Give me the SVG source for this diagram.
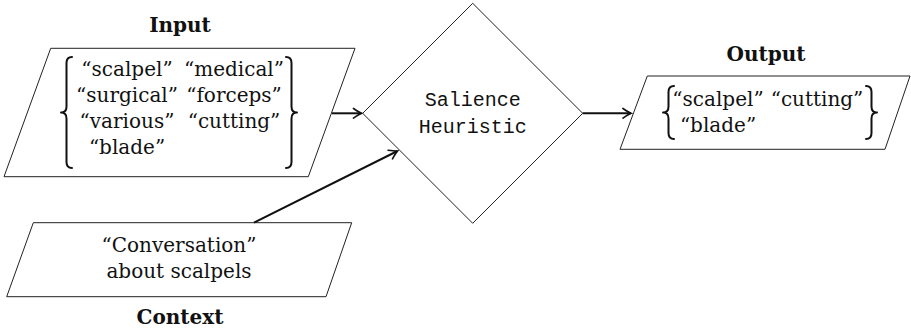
<svg xmlns="http://www.w3.org/2000/svg" width="911" height="334" viewBox="0 0 911 334">
<style>
  .shape { fill: #ffffff; stroke: #222222; stroke-width: 1; }
  .brace { fill: none; stroke: #111111; stroke-width: 2; stroke-linecap: round; stroke-linejoin: round; }
  .txt { font-family: "DejaVu Serif", "Liberation Serif", serif; font-size: 20px; fill: #111111; text-anchor: middle; }
  .mono { font-family: "Liberation Mono", "DejaVu Sans Mono", monospace; font-size: 20px; fill: #111111; text-anchor: middle; }
  .label { font-family: "DejaVu Serif", "Liberation Serif", serif; font-weight: bold; font-size: 20px; fill: #111111; text-anchor: middle; }
  .conn { fill: none; stroke: #111111; stroke-width: 2; }
</style>
<defs>
  <marker id="arrow" viewBox="-10 -6 12 12" refX="0" refY="0" markerWidth="12" markerHeight="12" markerUnits="userSpaceOnUse" orient="auto">
    <path d="M -8 -4.8 Q -2.5 -1 0 0 Q -2.5 1 -8 4.8" fill="none" stroke="#111111" stroke-width="1.7" stroke-linecap="round"/>
  </marker>
</defs>

<g id="input">
  <text class="label" x="180" y="32">Input</text>
  <polygon class="shape" points="50.7,48.3 355,48.3 308.3,176.7 4,176.7"/>
  <path class="brace" d="M 72 57 Q 66.5 57 66.5 63 L 66.5 106.5 Q 66.5 112.5 61 112.5 Q 66.5 112.5 66.5 118.5 L 66.5 162 Q 66.5 168 72 168"/>
  <path class="brace" d="M 286 57 Q 291.5 57 291.5 63 L 291.5 106.5 Q 291.5 112.5 297 112.5 Q 291.5 112.5 291.5 118.5 L 291.5 162 Q 291.5 168 286 168"/>
  <text class="txt" x="127" y="76">“scalpel”</text>
  <text class="txt" x="234" y="76">“medical”</text>
  <text class="txt" x="127" y="102">“surgical”</text>
  <text class="txt" x="234" y="102">“forceps”</text>
  <text class="txt" x="127" y="128">“various”</text>
  <text class="txt" x="234" y="128">“cutting”</text>
  <text class="txt" x="127" y="154">“blade”</text>
</g>

<g id="context">
  <polygon class="shape" points="33.3,222.7 351.7,222.7 326,296.7 6.7,296.7"/>
  <text class="txt" x="179" y="252">“Conversation”</text>
  <text class="txt" x="179" y="278">about scalpels</text>
  <text class="label" x="180" y="324">Context</text>
</g>

<g id="salience">
  <polygon class="shape" points="472.7,3.3 582.7,113.3 472.7,223.3 362.7,113.3"/>
  <text class="mono" x="472.7" y="106">Salience</text>
  <text class="mono" x="472.7" y="133">Heuristic</text>
</g>

<g id="output">
  <text class="label" x="766" y="61">Output</text>
  <polygon class="shape" points="647.3,76 910,76 885,149.3 620,149.3"/>
  <path class="brace" d="M 674 86 Q 668.5 86 668.5 92 L 668.5 106.5 Q 668.5 112.5 663 112.5 Q 668.5 112.5 668.5 118.5 L 668.5 133 Q 668.5 139 674 139"/>
  <path class="brace" d="M 866 86 Q 871.5 86 871.5 92 L 871.5 106.5 Q 871.5 112.5 877 112.5 Q 871.5 112.5 871.5 118.5 L 871.5 133 Q 871.5 139 866 139"/>
  <text class="txt" x="718" y="105.5">“scalpel”</text>
  <text class="txt" x="817" y="105.5">“cutting”</text>
  <text class="txt" x="718" y="131.5">“blade”</text>
</g>

<g id="connectors">
  <line class="conn" x1="332" y1="113.3" x2="361.5" y2="113.3" marker-end="url(#arrow)"/>
  <line class="conn" x1="254" y1="222.7" x2="397.5" y2="151" marker-end="url(#arrow)"/>
  <line class="conn" x1="582.7" y1="113.3" x2="631" y2="113.3" marker-end="url(#arrow)"/>
</g>
</svg>
